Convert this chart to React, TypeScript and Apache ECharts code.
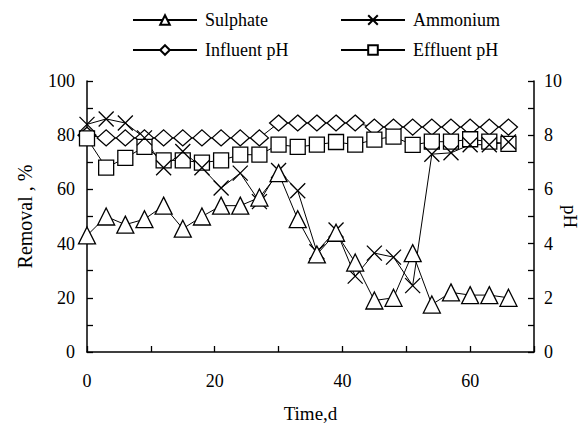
import React, { useEffect, useRef } from "react";
import * as echarts from "echarts";

const days = [0, 3, 6, 9, 12, 15, 18, 21, 24, 27, 30, 33, 36, 39, 42, 45, 48, 51, 54, 57, 60, 63, 66];
const sulphate = [43, 50, 47, 49, 54, 45.5, 50, 54, 54, 57, 66, 49, 36, 44, 33, 19, 20, 36.5, 17.5, 22, 21, 21, 20];
const ammonium = [84, 86, 84.5, 79, 68, 74, 68, 60.5, 66, 55.5, 67, 59.5, 37, 45, 28, 36.5, 35, 24.5, 73, 73.5, 76.5, 76.5, 77.5];
const influentPH = [8.0, 7.9, 7.9, 7.9, 7.9, 7.9, 7.9, 7.9, 7.9, 7.9, 8.45, 8.45, 8.45, 8.45, 8.45, 8.3, 8.3, 8.3, 8.3, 8.3, 8.3, 8.3, 8.3];
const effluentPH = [7.88, 6.8, 7.16, 7.57, 7.07, 7.07, 6.99, 7.07, 7.28, 7.28, 7.65, 7.57, 7.65, 7.75, 7.65, 7.84, 7.95, 7.64, 7.76, 7.76, 7.85, 7.76, 7.68];
const seriesNames = ["Sulphate", "Ammonium", "Influent pH", "Effluent pH"];

const FONT = "'Liberation Serif', 'DejaVu Serif', serif";

export default function App() {
  const ref = useRef<HTMLDivElement>(null);
  useEffect(() => {
    if (!ref.current) return;
    const chart = echarts.init(ref.current, null, { renderer: "svg" });
    const pair = (ys: number[]) => days.map((d, i) => [d, ys[i]]);
    const mk = (name: string, ys: number[], symbol: string, size: number | number[], yAxisIndex: number) => ({
      name,
      type: "line",
      data: pair(ys),
      yAxisIndex,
      symbol,
      symbolSize: size,
      showAllSymbol: true,
      lineStyle: { color: "#000", width: 1 },
      itemStyle: { color: "#fff", borderColor: "#000", borderWidth: 1.3 },
      emphasis: { disabled: true },
    });
    const legendBase = {
      itemWidth: 64,
      itemHeight: 12,
      itemGap: 0,
      textStyle: { fontFamily: FONT, fontSize: 18, color: "#000", padding: [0, 0, 0, 3] },
      selectedMode: false,
    };
    chart.setOption({
      animation: false,
      backgroundColor: "#fff",
      textStyle: { fontFamily: FONT },
      legend: [
        { ...legendBase, data: [seriesNames[0]], left: 127, top: 6 },
        { ...legendBase, data: [seriesNames[1]], left: 335, top: 6 },
        { ...legendBase, data: [seriesNames[2]], left: 127, top: 36 },
        { ...legendBase, data: [seriesNames[3]], left: 335, top: 36 },
      ],
      grid: { left: 87, right: 49, top: 81, bottom: 72, outerBoundsMode: "none", containLabel: false },
      xAxis: {
        type: "value",
        min: 0,
        max: 70,
        interval: 10,
        name: "Time,d",
        nameLocation: "middle",
        nameGap: 52,
        nameTextStyle: { fontFamily: FONT, fontSize: 19, color: "#000" },
        axisLine: { lineStyle: { color: "#000", width: 1.5 } },
        axisTick: { inside: true, length: 6, lineStyle: { color: "#000", width: 1.3 } },
        axisLabel: {
          fontFamily: FONT,
          fontSize: 18,
          color: "#000",
          margin: 20,
          formatter: (v: number) => (v % 20 === 0 && v < 70 ? String(v) : ""),
        },
        splitLine: { show: false },
      },
      yAxis: [
        {
          type: "value",
          min: 0,
          max: 100,
          interval: 10,
          name: "Removal , %",
          nameLocation: "middle",
          nameRotate: 90,
          nameGap: 52,
          nameTextStyle: { fontFamily: FONT, fontSize: 20, color: "#000" },
          axisLine: { show: true, lineStyle: { color: "#000", width: 1.5 } },
          axisTick: { show: true, inside: true, length: 6, lineStyle: { color: "#000", width: 1.3 } },
          axisLabel: {
            fontFamily: FONT,
            fontSize: 18,
            color: "#000",
            margin: 12,
            formatter: (v: number) => (v % 20 === 0 ? String(v) : ""),
          },
          splitLine: { show: false },
        },
        {
          type: "value",
          min: 0,
          max: 10,
          interval: 1,
          position: "right",
          name: "pH",
          nameLocation: "middle",
          nameRotate: -90,
          nameGap: 27,
          nameMoveOverlap: false,
          nameTextStyle: { fontFamily: FONT, fontSize: 19, color: "#000" },
          axisLine: { show: true, lineStyle: { color: "#000", width: 1.5 } },
          axisTick: { show: true, inside: true, length: 6, lineStyle: { color: "#000", width: 1.3 } },
          axisLabel: {
            fontFamily: FONT,
            fontSize: 18,
            color: "#000",
            margin: 10,
            formatter: (v: number) => (v % 2 === 0 ? String(v) : ""),
          },
          splitLine: { show: false },
        },
      ],
      series: [
        mk(seriesNames[2], influentPH, "diamond", [18, 16], 1),
        mk(seriesNames[3], effluentPH, "rect", 15, 1),
        mk(seriesNames[1], ammonium, "path://M0,0L10,10M10,0L0,10", 15, 0),
        mk(seriesNames[0], sulphate, "triangle", 17, 0),
      ],
    });
    return () => chart.dispose();
  }, []);
  return <div ref={ref} style={{ position: "fixed", left: 0, top: 0, width: 583, height: 424 }} />;
}
